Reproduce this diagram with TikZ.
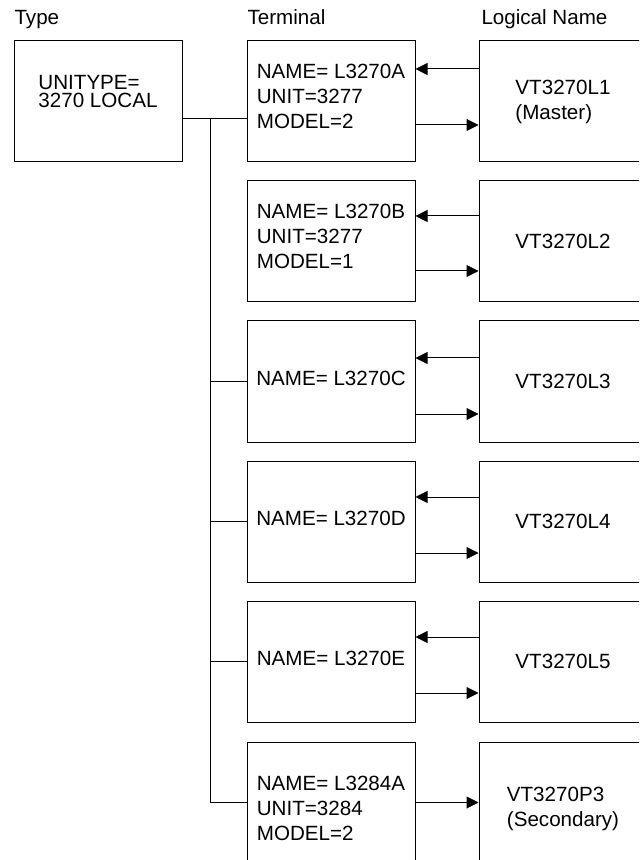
\documentclass[tikz,border=0pt]{standalone}
\usepackage{fontspec}
\setmainfont{Liberation Sans}
\usetikzlibrary{arrows.meta}

\begin{document}
\begin{tikzpicture}[x=0.5pt,y=-0.5pt,line width=0.5pt,font=\fontsize{10.3}{12.5}\selectfont,
		box/.style={draw,minimum width=84pt,minimum height=60.5pt,align=left,inner sep=2pt},
		hdr/.style={anchor=base west,inner sep=0pt},
		tip/.style={-{Triangle[length=6pt,width=6pt]}}]
		\useasboundingbox (0,0) rectangle (639,860);
		\clip (0,0) rectangle (639,860);
		\node[hdr] (htype) at (14,25) {Type};
		\node[hdr] (hterm) at (247,25) {Terminal};
		\node[hdr] (hlog) at (481,25) {Logical Name};
		\node[box,font=\fontsize{10.3}{9}\selectfont,text depth=10pt] (type) at (98,101.5) {UNITYPE=\\3270 LOCAL};
		% terminals and logical names
		\foreach \n/\yy/\dd/\txt/\lg in {1/101.5/5pt/{NAME= L3270A\\UNIT=3277\\MODEL=2}/{VT3270L1\\(Master)},
			2/241.5/5pt/{NAME= L3270B\\UNIT=3277\\MODEL=1}/{VT3270L2},
			3/381.5/3.5pt/{NAME= L3270C}/{VT3270L3},
			4/521.5/3.5pt/{NAME= L3270D}/{VT3270L4},
			5/661.5/3.5pt/{NAME= L3270E}/{VT3270L5}}
		{
			\node[box,text depth=\dd] (t\n) at (331,\yy) {\txt};
			\node[box] (l\n) at (563,\yy) {\lg};
		}
		\node[box,minimum height=66.5pt] (t6) at (331,808.5) {NAME= L3284A\\UNIT=3284\\MODEL=2};
		\node[box,minimum height=66.5pt] (l6) at (563,808.5) {VT3270P3\\(Secondary)};
		% arrows
		\foreach \n/\up/\dn in {1/32.5/23.5,2/25.5/29.5,3/23.5/32.5,4/24.5/31.5,5/24.5/31.5}
		{
			\draw[tip] ([yshift=\up*0.5pt]l\n.west)--([yshift=\up*0.5pt]t\n.east);
			\draw[tip] ([yshift=-\dn*0.5pt]t\n.east)--([yshift=-\dn*0.5pt]l\n.west);
		}
		\draw[tip] ([yshift=3pt]t6.east)--([yshift=3pt]l6.west);
		% bus
		\coordinate (bus) at (210,119);
		\draw ([yshift=-8.75pt]type.east)--([yshift=-8.75pt]t1.west);
		\draw (bus) |- ([yshift=3pt]t6.west);
		\foreach \n in {3,4,5}
		{
			\draw (bus |- t\n.west)--(t\n.west);
		}
	\end{tikzpicture}
\end{document}
